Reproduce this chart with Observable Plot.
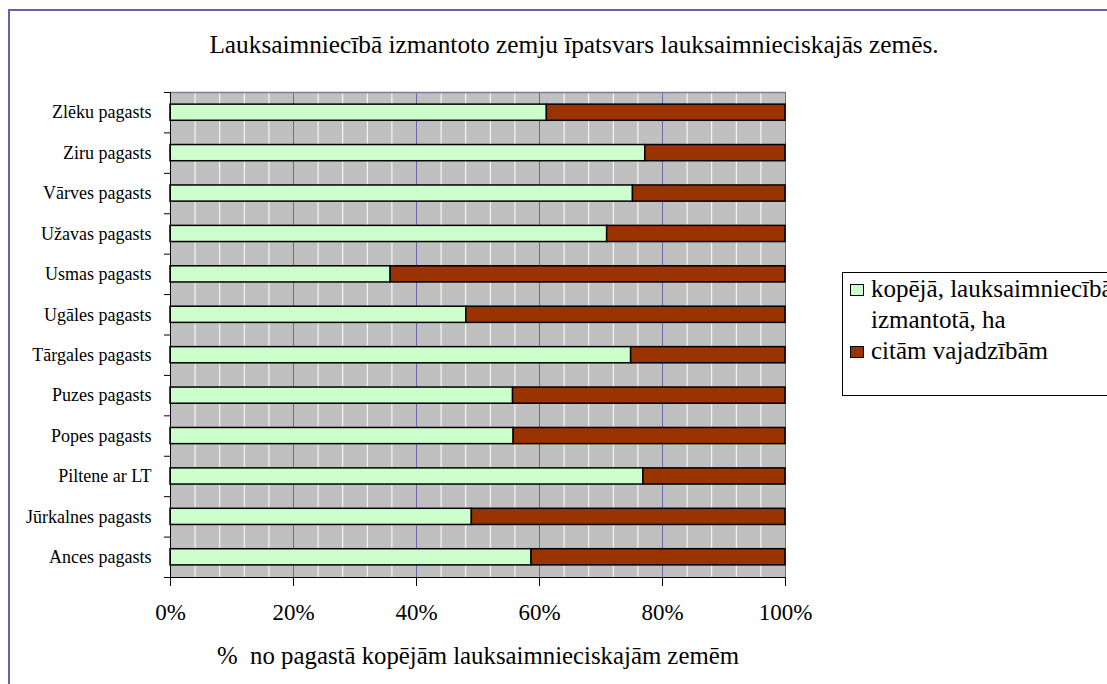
<!DOCTYPE html>
<html>
<head>
<meta charset="utf-8">
<script src="https://cdn.jsdelivr.net/npm/d3@7"></script>
<script src="https://cdn.jsdelivr.net/npm/@observablehq/plot@0.6"></script>
<style>
  html, body { margin: 0; padding: 0; background: #fff; overflow: hidden; }
  #chart { position: relative; width: 1107px; height: 684px; font-family: "Liberation Serif", "Times New Roman", serif; color: #000; }
  #chart svg { position: absolute; left: 0; top: 0; }
  #border { position: absolute; left: 8px; top: 9px; width: 1200px; height: 800px;
            border-left: 2px solid #6262b0; border-top: 2px solid #6262b0; }
  .txt { position: absolute; white-space: pre; line-height: 1; transform: translateX(-50%); }
  #title { left: 574px; top: 32px; font-size: 25.3px; }
  #xtitle { left: 478px; top: 644px; font-size: 24.8px; }
  #legend { position: absolute; left: 842px; top: 272px; width: 330px; height: 124px;
            box-sizing: border-box; border: 1px solid #000; background: #fff; }
  .item { position: relative; padding-left: 28px; font-size: 25px; line-height: 31px; white-space: nowrap; }
  .sw { position: absolute; left: 7px; top: 11px; width: 12px; height: 10px; border: 1px solid #000; }
</style>
</head>
<body>
<div id="chart">
  <div id="border"></div>
</div>
<script>
// Parishes, top to bottom
const categories = [
  "Zlēku pagasts",
  "Ziru pagasts",
  "Vārves pagasts",
  "Užavas pagasts",
  "Usmas pagasts",
  "Ugāles pagasts",
  "Tārgales pagasts",
  "Puzes pagasts",
  "Popes pagasts",
  "Piltene ar LT",
  "Jūrkalnes pagasts",
  "Ances pagasts"
];

// Share of agricultural land (%)
const usedInFarming = [61.2, 77.2, 75.2, 71.0, 35.8, 48.1, 74.9, 55.7, 55.8, 76.9, 49.0, 58.7];
const otherNeeds    = [38.8, 22.8, 24.8, 29.0, 64.2, 51.9, 25.1, 44.3, 44.2, 23.1, 51.0, 41.3];

const seriesNames = ["kopējā, lauksaimniecībā izmantotā, ha", "citām vajadzībām"];
const seriesColors = ["#ccffcc", "#993300"];

const xTicks = [0, 0.2, 0.4, 0.6, 0.8, 1];
const majorGrid = [0.2, 0.4, 0.6, 0.8, 1];
const minorGrid = d3.range(1, 25).map(k => k * 0.04).filter((v, k) => (k + 1) % 5 !== 0);

const title = "Lauksaimniecībā izmantoto zemju īpatsvars lauksaimnieciskajās zemēs.";
const xTitle = "%  no pagastā kopējām lauksaimnieciskajām zemēm";

// One row per parish and series
const rows = categories.flatMap((name, i) => [
  {name, i, series: seriesNames[0], value: usedInFarming[i]},
  {name, i, series: seriesNames[1], value: otherNeeds[i]}
]);

const n = categories.length;

const chart = Plot.plot({
  width: 1107,
  height: 684,
  marginLeft: 170,
  marginRight: 322,
  marginTop: 92,
  marginBottom: 107,
  style: {background: "transparent", fontFamily: "'Liberation Serif', 'Times New Roman', serif", color: "#000"},
  x: {domain: [0, 1], label: null},
  y: {domain: [0, n], reverse: true, label: null},
  color: {domain: seriesNames, range: seriesColors},
  marks: [
    Plot.frame({fill: "#c0c0c0"}),
    Plot.ruleX(minorGrid, {stroke: "#ffffff", strokeWidth: 1}),
    Plot.ruleX(majorGrid, {stroke: "#6a6aaa", strokeWidth: 1}),
    Plot.ruleY([0], {stroke: "#7c7c9c", strokeWidth: 1.5}),
    Plot.rectX(rows, Plot.stackX({
      x: "value",
      y1: d => d.i + 0.3,
      y2: d => d.i + 0.7,
      fill: "series",
      stroke: "#000",
      strokeWidth: 1.5,
      offset: "normalize"
    })),
    Plot.ruleX([0], {stroke: "#000", strokeWidth: 1}),
    Plot.ruleY([n], {stroke: "#000", strokeWidth: 1}),
    // category names centred on each row
    Plot.axisY({
      ticks: categories.map((_, i) => i + 0.5),
      tickFormat: v => categories[Math.floor(v)],
      tickSize: 0,
      tickPadding: 19,
      fontSize: 18,
      label: null
    }),
    // tick marks between rows
    Plot.axisY({
      ticks: d3.range(n + 1),
      tickFormat: () => "",
      tickSize: 6,
      label: null
    }),
    Plot.axisX({
      ticks: xTicks,
      tickFormat: d => `${Math.round(d * 100)}%`,
      tickSize: 9,
      tickPadding: 17,
      fontSize: 23,
      label: null
    })
  ]
});

const root = document.getElementById("chart");
root.insertBefore(chart, root.firstChild);

const t = document.createElement("div");
t.id = "title"; t.className = "txt"; t.textContent = title;
root.appendChild(t);

const xt = document.createElement("div");
xt.id = "xtitle"; xt.className = "txt"; xt.textContent = xTitle;
root.appendChild(xt);

// Legend box: first label wraps after "lauksaimniecībā"
const legend = document.createElement("div");
legend.id = "legend";
const legendLines = [["kopējā, lauksaimniecībā", "izmantotā, ha"], ["citām vajadzībām"]];
legendLines.forEach((lines, k) => {
  const item = document.createElement("div");
  item.className = "item";
  const sw = document.createElement("span");
  sw.className = "sw";
  sw.style.background = seriesColors[k];
  item.appendChild(sw);
  lines.forEach((line, j) => {
    if (j) item.appendChild(document.createElement("br"));
    item.appendChild(document.createTextNode(line));
  });
  legend.appendChild(item);
});
root.appendChild(legend);
</script>
</body>
</html>
